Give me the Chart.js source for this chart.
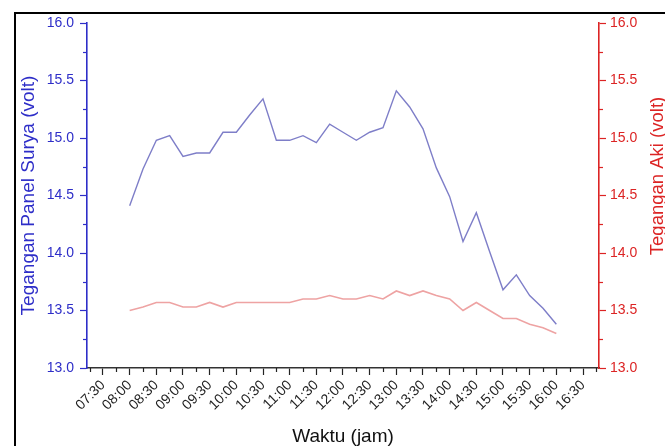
<!DOCTYPE html>
<html>
<head>
<meta charset="utf-8">
<script src="https://cdn.jsdelivr.net/npm/chart.js@4"></script>
<style>
  html, body { margin: 0; padding: 0; background: #fff; }
  #wrap { width: 665px; height: 446px; position: relative; }
</style>
</head>
<body>
<div id="wrap"><canvas id="c" width="665" height="446"></canvas></div>
<script>
// Measurement times (every 15 minutes)
const times = [
  '08:00','08:15','08:30','08:45','09:00','09:15','09:30','09:45',
  '10:00','10:15','10:30','10:45','11:00','11:15','11:30','11:45',
  '12:00','12:15','12:30','12:45','13:00','13:15','13:30','13:45',
  '14:00','14:15','14:30','14:45','15:00','15:15','15:30','15:45','16:00'
];
// Solar panel voltage (volt)
const panelVolts = [
  14.41, 14.73, 14.98, 15.02, 14.84, 14.87, 14.87, 15.05,
  15.05, 15.20, 15.34, 14.98, 14.98, 15.02, 14.96, 15.12,
  15.05, 14.98, 15.05, 15.09, 15.41, 15.27, 15.08, 14.74,
  14.49, 14.10, 14.35, 14.01, 13.68, 13.81, 13.63, 13.52, 13.38
];
// Battery voltage (volt)
const akiVolts = [
  13.50, 13.53, 13.57, 13.57, 13.53, 13.53, 13.57, 13.53,
  13.57, 13.57, 13.57, 13.57, 13.57, 13.60, 13.60, 13.63,
  13.60, 13.60, 13.63, 13.60, 13.67, 13.63, 13.67, 13.63,
  13.60, 13.50, 13.57, 13.50, 13.43, 13.43, 13.38, 13.35, 13.30
];
// Axis tick settings
const xTickHours = [];
for (let h = 7.25; h <= 16.75 + 1e-9; h += 0.25) xTickHours.push(h);
const voltMin = 13.0, voltMax = 16.0, voltStep = 0.25;

const BLUE_AXIS = '#2e2ec8';
const RED_AXIS = '#dc2424';
const FONT = "'Liberation Sans', Arial, sans-serif";

const toHours = t => { const [h, m] = t.split(':').map(Number); return h + m / 60; };
const fmtTime = v => {
  const h = Math.floor(v + 1e-9), m = Math.round((v - h) * 60);
  return String(h).padStart(2, '0') + ':' + String(m).padStart(2, '0');
};
const isHalf = v => Math.abs(v * 2 - Math.round(v * 2)) < 1e-6;

const panelPts = times.map((t, i) => ({ x: toHours(t), y: panelVolts[i] }));
const akiPts = times.map((t, i) => ({ x: toHours(t), y: akiVolts[i] }));

// Short minor ticks, outer frame and right-hand axis title
const decorations = {
  id: 'decorations',
  beforeDraw(chart) {
    const ctx = chart.ctx;
    ctx.save();
    ctx.fillStyle = '#fff';
    ctx.fillRect(0, 0, chart.width, chart.height);
    ctx.strokeStyle = '#000';
    ctx.lineWidth = 2;
    ctx.strokeRect(15, 13, 800, 600);
    ctx.restore();
  },
  afterDraw(chart) {
    const ctx = chart.ctx;
    const { x, yL, yR } = chart.scales;
    ctx.save();
    ctx.lineWidth = 1.2;
    const minorLen = 4;
    x.ticks.forEach(t => {
      if (isHalf(t.value)) return;
      const px = Math.round(x.getPixelForValue(t.value)) + 0.5;
      ctx.strokeStyle = '#222';
      ctx.beginPath(); ctx.moveTo(px, x.top); ctx.lineTo(px, x.top + minorLen); ctx.stroke();
    });
    yL.ticks.forEach(t => {
      if (isHalf(t.value)) return;
      const py = Math.round(yL.getPixelForValue(t.value)) + 0.5;
      ctx.strokeStyle = BLUE_AXIS;
      ctx.beginPath(); ctx.moveTo(yL.right, py); ctx.lineTo(yL.right - minorLen, py); ctx.stroke();
    });
    yR.ticks.forEach(t => {
      if (isHalf(t.value)) return;
      const py = Math.round(yR.getPixelForValue(t.value)) + 0.5;
      ctx.strokeStyle = RED_AXIS;
      ctx.beginPath(); ctx.moveTo(yR.left, py); ctx.lineTo(yR.left + minorLen, py); ctx.stroke();
    });
    // right axis title, reading bottom to top
    ctx.fillStyle = RED_AXIS;
    ctx.font = '18.5px ' + FONT;
    ctx.textAlign = 'center';
    ctx.textBaseline = 'middle';
    ctx.translate(yR.right - 7, 176);
    ctx.rotate(-Math.PI / 2);
    ctx.fillText('Tegangan Aki (volt)', 0, 0);
    ctx.restore();
  }
};

new Chart(document.getElementById('c'), {
  type: 'line',
  data: {
    datasets: [
      {
        label: 'Tegangan Panel Surya',
        data: panelPts,
        yAxisID: 'yL',
        borderColor: '#7e7ec8',
        borderWidth: 1.4,
        pointRadius: 0,
        tension: 0,
        fill: false
      },
      {
        label: 'Tegangan Aki',
        data: akiPts,
        yAxisID: 'yR',
        borderColor: '#eea3a3',
        borderWidth: 1.6,
        pointRadius: 0,
        tension: 0,
        fill: false
      }
    ]
  },
  options: {
    responsive: false,
    animation: false,
    devicePixelRatio: 1,
    layout: { padding: { top: 23, left: 0, right: 0, bottom: 0 } },
    plugins: { legend: { display: false }, tooltip: { enabled: false } },
    scales: {
      x: {
        type: 'linear',
        position: 'bottom',
        min: 7.2,
        max: 16.8,
        afterBuildTicks: s => { s.ticks = xTickHours.map(v => ({ value: v })); },
        afterFit: s => { s.height = 78; },
        grid: {
          drawOnChartArea: false,
          drawTicks: true,
          tickLength: 7,
          tickWidth: 1.2,
          tickColor: c => (c.tick && isHalf(c.tick.value)) ? '#222' : 'rgba(0,0,0,0)'
        },
        border: { display: true, color: '#333', width: 1.5 },
        ticks: {
          autoSkip: false,
          minRotation: 45,
          maxRotation: 45,
          padding: 2,
          color: '#222',
          font: { family: FONT, size: 14 },
          callback: v => isHalf(v) ? fmtTime(v) : ''
        },
        title: {
          display: true,
          text: 'Waktu (jam)',
          color: '#111',
          font: { family: FONT, size: 19, lineHeight: 1.0 },
          padding: { top: 0, bottom: 0 }
        }
      },
      yL: {
        type: 'linear',
        position: 'left',
        min: voltMin,
        max: voltMax,
        afterFit: s => { s.width = 87; },
        afterBuildTicks: s => {
          const arr = [];
          for (let v = voltMin; v <= voltMax + 1e-9; v += voltStep) arr.push({ value: +v.toFixed(2) });
          s.ticks = arr;
        },
        grid: {
          drawOnChartArea: false,
          drawTicks: true,
          tickLength: 7,
          tickWidth: 1.2,
          tickColor: c => (c.tick && isHalf(c.tick.value)) ? BLUE_AXIS : 'rgba(0,0,0,0)'
        },
        border: { display: true, color: BLUE_AXIS, width: 1.6 },
        ticks: {
          padding: 6,
          color: BLUE_AXIS,
          font: { family: FONT, size: 14 },
          callback: v => isHalf(v) ? v.toFixed(1) : ''
        },
        title: {
          display: true,
          text: 'Tegangan Panel Surya (volt)',
          color: BLUE_AXIS,
          font: { family: FONT, size: 19, lineHeight: 1.2 },
          padding: { top: 17, bottom: 0 }
        }
      },
      yR: {
        type: 'linear',
        position: 'right',
        min: voltMin,
        max: voltMax,
        afterFit: s => { s.width = 66; },
        afterBuildTicks: s => {
          const arr = [];
          for (let v = voltMin; v <= voltMax + 1e-9; v += voltStep) arr.push({ value: +v.toFixed(2) });
          s.ticks = arr;
        },
        grid: {
          drawOnChartArea: false,
          drawTicks: true,
          tickLength: 7,
          tickWidth: 1.2,
          tickColor: c => (c.tick && isHalf(c.tick.value)) ? RED_AXIS : 'rgba(0,0,0,0)'
        },
        border: { display: true, color: RED_AXIS, width: 1.6 },
        ticks: {
          padding: 4,
          color: RED_AXIS,
          font: { family: FONT, size: 14 },
          callback: v => isHalf(v) ? v.toFixed(1) : ''
        },
        title: { display: false }
      }
    }
  },
  plugins: [decorations]
});
</script>
</body>
</html>
